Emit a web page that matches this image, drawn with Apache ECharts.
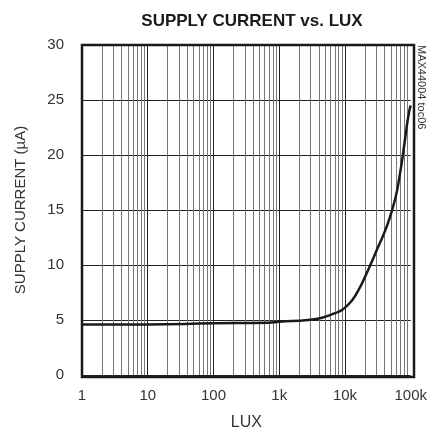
<!DOCTYPE html>
<html>
<head>
<meta charset="utf-8">
<script src="https://cdn.jsdelivr.net/npm/echarts@6/dist/echarts.min.js"></script>
<style>
  html, body { margin: 0; padding: 0; background: #fff; }
  #main { width: 430px; height: 436px; }
</style>
</head>
<body>
<div id="main"></div>
<script>
// curve: lux -> supply current (uA)
var luxValues = [1, 10, 100, 690, 1000, 2750, 6900, 11000, 15500, 21800, 31000, 43600, 58000, 69000, 78000, 87000, 95000, 100000];
var currentValues = [4.6, 4.6, 4.7, 4.75, 4.85, 5.0, 5.6, 6.35, 7.56, 9.37, 11.47, 13.58, 16.0, 18.4, 20.5, 22.6, 24.0, 24.5];
var yTicks = [0, 5, 10, 15, 20, 25, 30];
var xTickLabels = {1: '1', 10: '10', 100: '100', 1000: '1k', 10000: '10k', 100000: '100k'};

// vertical grid lines at 2..9 of every decade
var minorLux = [];
for (var d = 1; d < 100000; d *= 10) {
    for (var m = 2; m <= 9; m++) minorLux.push(d * m);
}
var decadeLux = [10, 100, 1000, 10000];

var font = '"Liberation Sans Narrow", "Liberation Sans", Arial, sans-serif';

var chart = echarts.init(document.getElementById('main'));
var option = {
    animation: false,
    backgroundColor: '#fff',
    title: {
        text: 'SUPPLY CURRENT vs. LUX',
        left: 247,
        textAlign: 'center',
        top: 8,
        textStyle: { fontFamily: font, fontWeight: 'bold', fontSize: 17, color: '#1a1a1a' }
    },
    grid: { left: 82, right: 16, top: 45, bottom: 59, containLabel: false },
    xAxis: {
        type: 'log',
        logBase: 10,
        min: 1,
        max: 100000,
        name: 'LUX',
        nameLocation: 'middle',
        nameGap: 40,
        nameTextStyle: { fontFamily: font, fontSize: 16, color: '#333' },
        axisLine: { show: false },
        axisTick: { show: false },
        splitLine: { show: false },
        axisLabel: {
            fontFamily: font, fontSize: 15, color: '#333', margin: 13,
            formatter: function (v) { return xTickLabels[v] !== undefined ? xTickLabels[v] : ''; }
        }
    },
    yAxis: {
        type: 'value',
        min: yTicks[0],
        max: yTicks[yTicks.length - 1],
        interval: 5,
        name: 'SUPPLY CURRENT (µA)',
        nameLocation: 'middle',
        nameGap: 54,
        nameTextStyle: { fontFamily: font, fontSize: 15, color: '#333' },
        axisLine: { show: false },
        axisTick: { show: false },
        splitLine: { show: true, lineStyle: { color: '#222', width: 1 } },
        axisLabel: { fontFamily: font, fontSize: 15, color: '#333', margin: 18 }
    },
    graphic: [
        {
            type: 'rect',
            shape: { x: 82, y: 45, width: 332, height: 332 },
            style: { fill: null, stroke: '#1a1a1a', lineWidth: 2.5 },
            z: 10
        },
        {
            type: 'text',
            x: 421,
            y: 45,
            rotation: -Math.PI / 2,
            style: {
                text: 'MAX44004 toc06',
                fontFamily: font,
                fontSize: 11,
                fill: '#333',
                textVerticalAlign: 'middle'
            }
        }
    ],
    series: [
        {
            type: 'line',
            data: [],
            silent: true,
            markLine: {
                silent: true,
                symbol: 'none',
                label: { show: false },
                animation: false,
                lineStyle: { color: '#777', width: 1, type: 'solid' },
                data: minorLux.map(function (v) { return { xAxis: v }; })
            }
        },
        {
            type: 'line',
            data: [],
            silent: true,
            markLine: {
                silent: true,
                symbol: 'none',
                label: { show: false },
                animation: false,
                lineStyle: { color: '#222', width: 1, type: 'solid' },
                data: decadeLux.map(function (v) { return { xAxis: v }; })
            }
        },
        {
            name: 'Supply current',
            type: 'line',
            smooth: 0.5,
            showSymbol: false,
            lineStyle: { color: '#1a1a1a', width: 2.5 },
            z: 5,
            data: luxValues.map(function (x, i) { return [x, currentValues[i]]; })
        }
    ]
};
chart.setOption(option);
</script>
</body>
</html>
